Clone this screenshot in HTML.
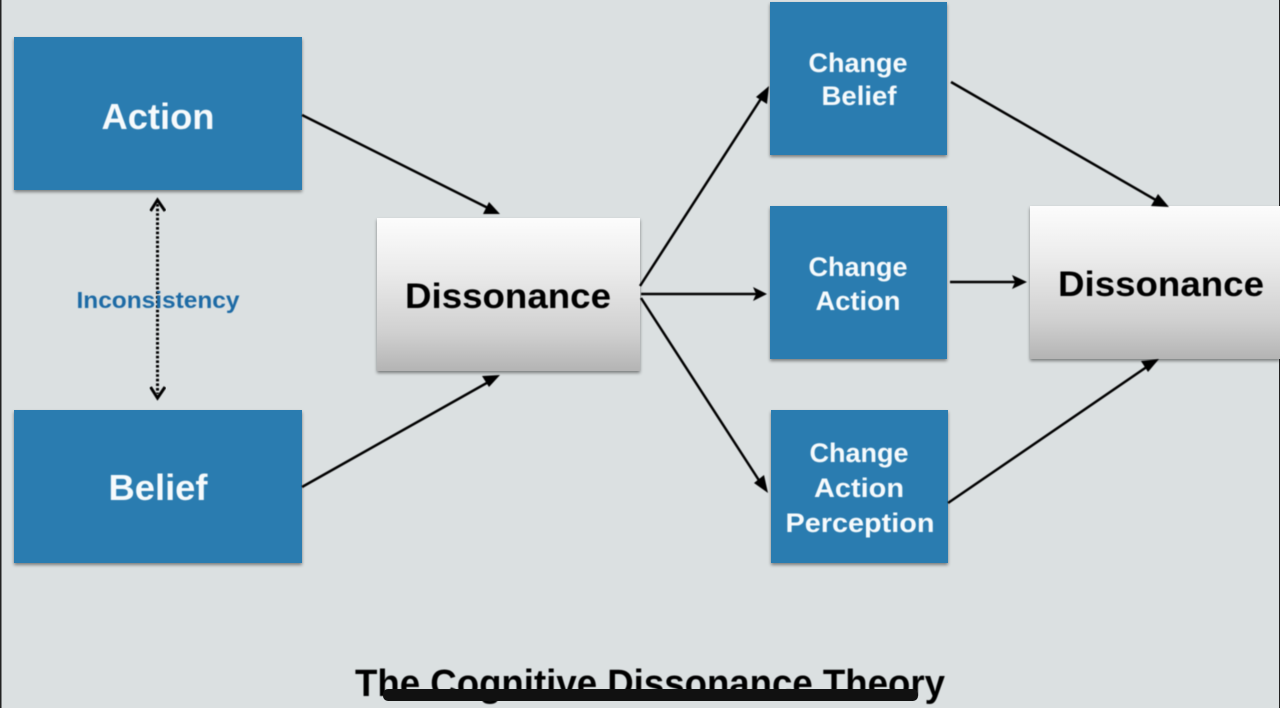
<!DOCTYPE html>
<html>
<head>
<meta charset="utf-8">
<style>
html,body{margin:0;padding:0;width:1280px;height:720px;overflow:hidden;background:#fff}
svg{display:block}
text{font-family:"Liberation Sans",Arial,sans-serif;font-weight:bold;text-anchor:middle}
.w{fill:#f6fafc}
.k{fill:#050505}
</style>
</head>
<body>
<svg width="1280" height="720" viewBox="0 0 1280 720" xmlns="http://www.w3.org/2000/svg">
<defs>
<linearGradient id="g" x1="0" y1="0" x2="0" y2="1">
<stop offset="0" stop-color="#fcfcfc"/>
<stop offset="0.35" stop-color="#ebebeb"/>
<stop offset="0.75" stop-color="#d0d0d0"/>
<stop offset="1" stop-color="#b4b4b4"/>
</linearGradient>
<filter id="s" x="-5%" y="-5%" width="110%" height="112%">
<feDropShadow dx="0" dy="2" stdDeviation="1.6" flood-color="#000" flood-opacity="0.45"/>
</filter>
<filter id="b" x="-5%" y="-5%" width="110%" height="110%"><feGaussianBlur stdDeviation="0.45"/></filter>
</defs>

<rect x="0" y="0" width="1280" height="708" fill="#dbe0e1"/>
<rect x="0" y="0" width="1.5" height="708" fill="#222"/>
<rect x="1279" y="0" width="1" height="708" fill="#222"/>

<!-- boxes -->
<g fill="#2b7cb0" filter="url(#s)">
<rect x="14" y="37" width="288" height="153"/>
<rect x="14" y="410" width="288" height="153"/>
<rect x="770" y="2" width="177" height="153"/>
<rect x="770" y="206" width="177" height="153"/>
<rect x="771" y="410" width="177" height="153"/>
</g>
<g fill="url(#g)" filter="url(#s)">
<rect x="377" y="218" width="263" height="153"/>
<rect x="1030" y="206" width="250" height="153"/>
</g>

<!-- connectors -->
<g stroke="#050505" stroke-width="2.5" fill="none" filter="url(#b)">
<line x1="302" y1="115" x2="492" y2="210"/>
<line x1="302" y1="487" x2="492" y2="380"/>
<line x1="640" y1="286" x2="764" y2="94"/>
<line x1="641" y1="294" x2="760" y2="294"/>
<line x1="641" y1="298" x2="762" y2="485"/>
<line x1="951" y1="82" x2="1161" y2="203"/>
<line x1="950" y1="282" x2="1020" y2="282"/>
<line x1="948" y1="503" x2="1151" y2="364"/>
<line x1="157.500" y1="204" x2="157.500" y2="394" stroke-width="3" stroke-dasharray="2.6 2"/>
</g>
<g fill="#050505" filter="url(#b)">
<polygon points="500,214 483,214 489,202"/>
<polygon points="500,375 489,387 482,376"/>
<polygon points="769,86 767,104 756,97"/>
<polygon points="767,294 753,301 756,294 753,287"/>
<polygon points="768,493 754,483 764,475"/>
<polygon points="1169,207 1151,206 1158,194"/>
<polygon points="1027,282 1012,289 1015,282 1012,275"/>
<polygon points="1159,359 1148,372 1141,361"/>
</g>
<g stroke="#050505" stroke-width="3" fill="none" filter="url(#b)">
<polyline points="150.500,211 157.500,200 165,211"/>
<polyline points="150.500,387 157.500,398 165,387"/>
</g>

<!-- labels -->
<g filter="url(#b)">
<text class="w" x="158" y="129" font-size="36" textLength="113" lengthAdjust="spacingAndGlyphs">Action</text>
<text class="w" x="158" y="500" font-size="36" textLength="99" lengthAdjust="spacingAndGlyphs">Belief</text>
<text class="w" x="858" y="72" font-size="27">Change</text>
<text class="w" x="859" y="105" font-size="27" textLength="75" lengthAdjust="spacingAndGlyphs">Belief</text>
<text class="w" x="858" y="276" font-size="27">Change</text>
<text class="w" x="858" y="310" font-size="27" textLength="85" lengthAdjust="spacingAndGlyphs">Action</text>
<text class="w" x="859" y="462" font-size="27">Change</text>
<text class="w" x="859" y="497" font-size="27" textLength="90" lengthAdjust="spacingAndGlyphs">Action</text>
<text class="w" x="860" y="532" font-size="27" textLength="149" lengthAdjust="spacingAndGlyphs">Perception</text>
<text class="k" x="508" y="308" font-size="35" textLength="206" lengthAdjust="spacingAndGlyphs">Dissonance</text>
<text class="k" x="1161" y="296" font-size="35" textLength="206" lengthAdjust="spacingAndGlyphs">Dissonance</text>
<text x="158" y="308" font-size="23.500" fill="#1f6aa5" textLength="163" lengthAdjust="spacingAndGlyphs">Inconsistency</text>
<text class="k" x="650" y="696" font-size="38" textLength="590" lengthAdjust="spacingAndGlyphs">The Cognitive Dissonance Theory</text>
</g>
<rect x="383" y="689" width="535" height="12" rx="5" fill="#111"/>
<rect x="0" y="708" width="1280" height="12" fill="#fff"/>
</svg>
</body>
</html>
